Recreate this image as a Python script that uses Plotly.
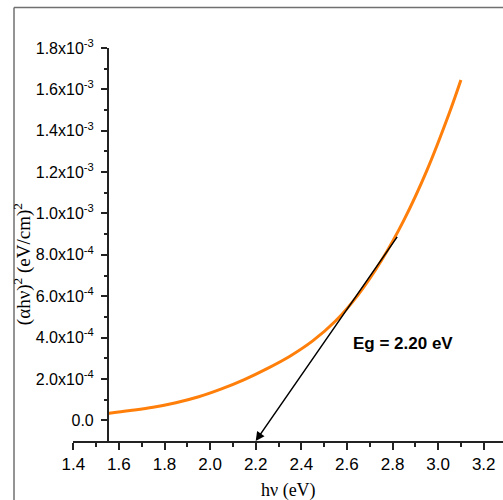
import plotly.graph_objects as go

# ---- data ----
hv = [1.55, 1.65, 1.75, 1.85, 1.95, 2.05, 2.15, 2.25, 2.35, 2.45, 2.55, 2.65, 2.75, 2.85, 2.95, 3.05, 3.10]
ahv2 = [3.3e-5, 4.7e-5, 6.3e-5, 8.5e-5, 1.14e-4, 1.52e-4, 1.97e-4, 2.50e-4, 3.10e-4, 3.84e-4,
        4.80e-4, 6.08e-4, 7.70e-4, 9.68e-4, 1.206e-3, 1.488e-3, 1.645e-3]

tangent_x = [2.20, 2.825]
tangent_y = [-1.0e-4, 8.94e-4]

y_tickvals = [0, 2e-4, 4e-4, 6e-4, 8e-4, 1.0e-3, 1.2e-3, 1.4e-3, 1.6e-3, 1.8e-3]
y_ticktext = ["0.0", "2.0x10<sup>-4</sup>", "4.0x10<sup>-4</sup>", "6.0x10<sup>-4</sup>",
              "8.0x10<sup>-4</sup>", "1.0x10<sup>-3</sup>", "1.2x10<sup>-3</sup>",
              "1.4x10<sup>-3</sup>", "1.6x10<sup>-3</sup>", "1.8x10<sup>-3</sup>"]
y_minor = [1e-4, 3e-4, 5e-4, 7e-4, 9e-4, 1.1e-3, 1.3e-3, 1.5e-3, 1.7e-3]

eg_label = "Eg = 2.20 eV"
x_title = "hν (eV)"
y_title = "(αhν)<sup>2</sup> (eV/cm)<sup>2</sup>"

SANS = "Liberation Sans, Arial, sans-serif"
SERIF = "Liberation Serif, Times New Roman, serif"

fig = go.Figure()
fig.add_trace(go.Scatter(x=hv, y=ahv2, mode="lines",
                         line=dict(color="#FF7F0A", width=3, shape="spline", smoothing=1.0),
                         showlegend=False, hoverinfo="skip"))

fig.add_annotation(x=tangent_x[0], y=tangent_y[0], ax=tangent_x[1], ay=tangent_y[1],
                   xref="x", yref="y", axref="x", ayref="y", text="", showarrow=True,
                   arrowhead=2, arrowsize=1.2, arrowwidth=1.5, arrowcolor="black", standoff=0, startstandoff=0)

fig.add_annotation(x=2.846, y=3.72e-4, xref="x", yref="y", text="<b>" + eg_label + "</b>",
                   showarrow=False, font=dict(family=SANS, size=17, color="black"))

fig.add_annotation(x=0.5, y=-0.125, xref="paper", yref="paper", text=x_title, showarrow=False,
                   font=dict(family=SERIF, size=18, color="black"), xanchor="center", yanchor="middle")
fig.add_annotation(x=-0.1186, y=0.45, xref="paper", yref="paper", text=y_title, showarrow=False,
                   textangle=-90, font=dict(family=SERIF, size=19, color="black"),
                   xanchor="center", yanchor="middle")

# frame lines (left and top)
fig.add_shape(type="line", xref="paper", yref="paper", x0=-0.1372, x1=-0.1372, y0=1.103, y1=-0.3,
              line=dict(color="#707070", width=1.5))
fig.add_shape(type="line", xref="paper", yref="paper", x0=-0.1372, x1=1.2, y0=1.103, y1=1.103,
              line=dict(color="#707070", width=1.5))

fig.update_xaxes(range=[1.3987, 3.2846], showgrid=False, zeroline=False, showline=True,
                 linecolor="#222", linewidth=1.5, ticks="outside", ticklen=7, tickwidth=1.5,
                 tickcolor="#222", tickmode="linear", tick0=1.4, dtick=0.2, tickformat=".1f",
                 tickfont=dict(family=SANS, size=17, color="black"),
                 minor=dict(ticks="outside", ticklen=4, tickwidth=1.5, tickcolor="#222",
                            tickmode="linear", tick0=1.5, dtick=0.2))
fig.update_yaxes(range=[-1.0e-4, 1.8e-3], showgrid=False, zeroline=False, showline=True,
                 linecolor="#222", linewidth=1.5, ticks="outside", ticklen=6, tickwidth=1.5,
                 tickcolor="#222", tickmode="array", tickvals=y_tickvals, ticktext=y_ticktext,
                 tickfont=dict(family=SANS, size=16, color="black"), ticklabelstandoff=4,
                 anchor="free", position=0.0807,
                 minor=dict(ticks="outside", ticklen=3, tickwidth=1.5, tickcolor="#222",
                            tickmode="array", tickvals=y_minor))

fig.update_layout(width=503, height=500, margin=dict(l=73, r=0, t=48, b=59),
                  plot_bgcolor="white", paper_bgcolor="white", showlegend=False)

fig.write_html("out.html")
